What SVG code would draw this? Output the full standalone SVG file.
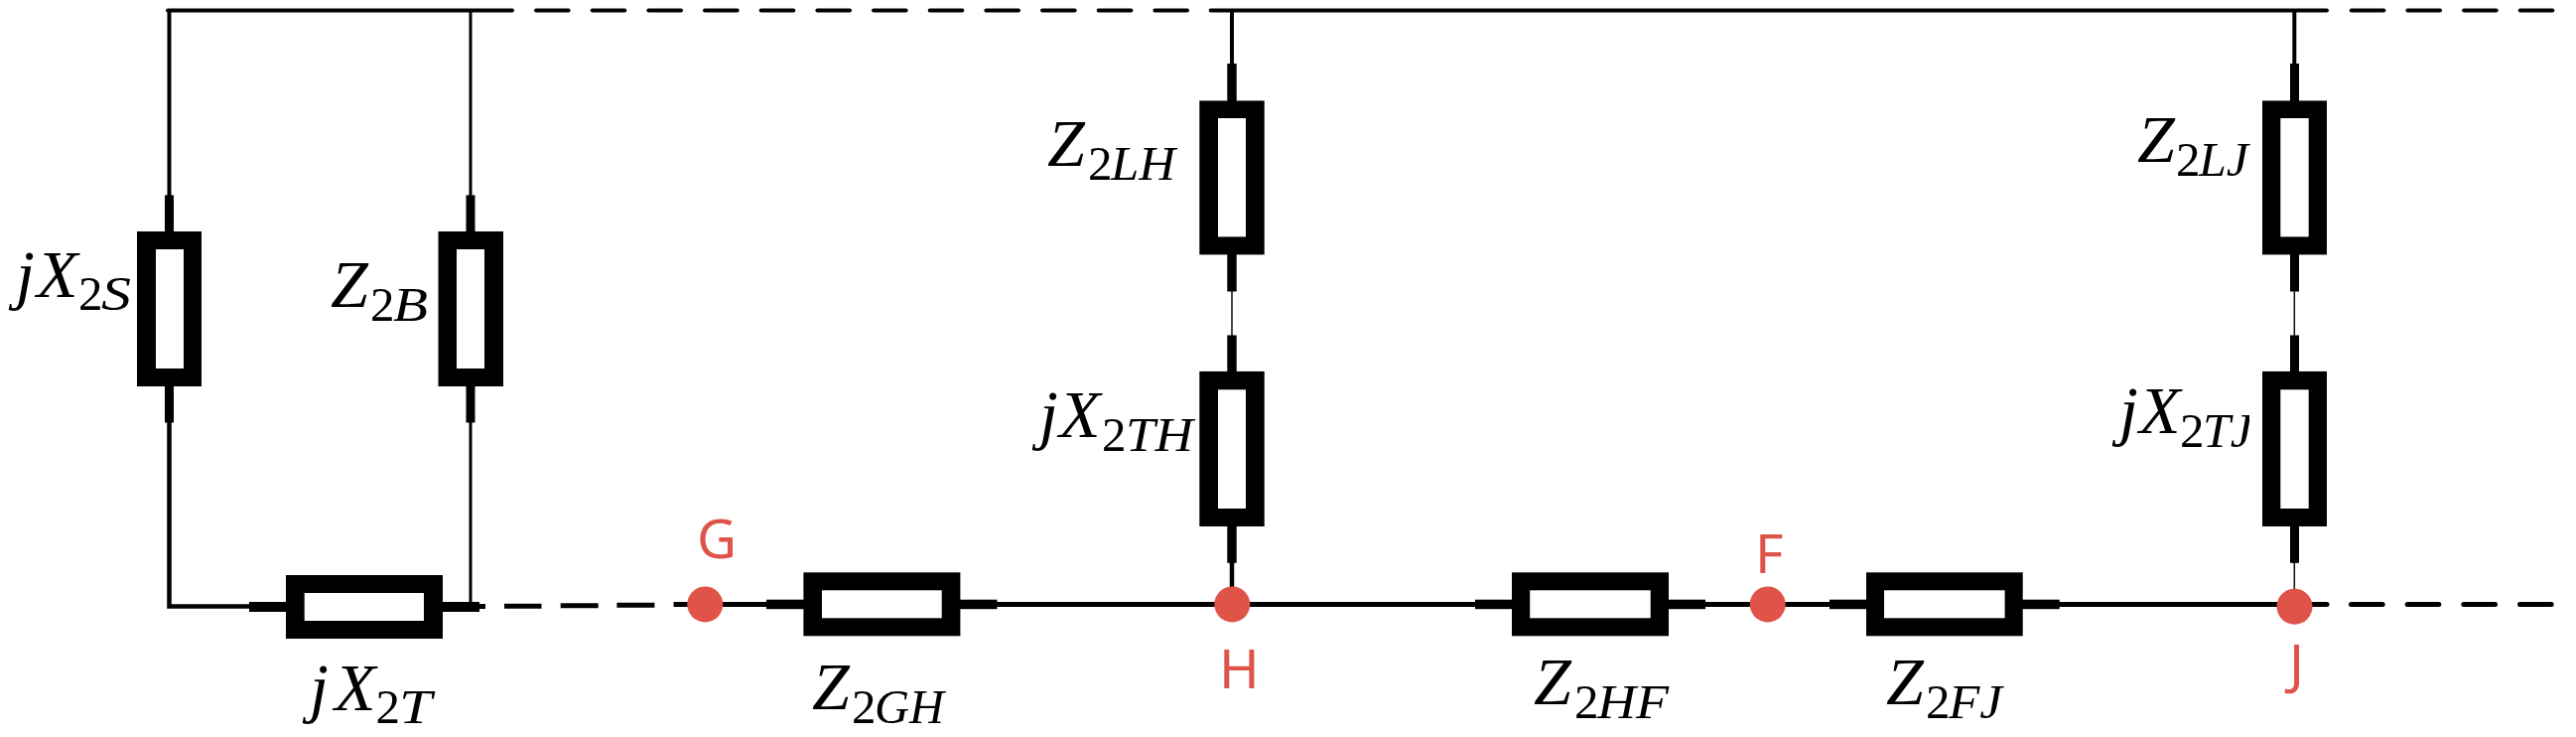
<svg xmlns="http://www.w3.org/2000/svg" width="2595" height="742" viewBox="0 0 2595 742">
<style>
.w{fill:none;stroke:#000}
.t{stroke-width:4}
.n{stroke-width:3}
.h{stroke-width:1.6;stroke:#1a1a1a}
.m{stroke-width:5}
.r{stroke-linecap:round}
.dt{stroke-dasharray:32.67 24}
.db{stroke-dasharray:31.67 25}
.f{fill:#000}
.i{fill:#fff}
.dot{fill:#e05349}
.pt{fill:#e05349;font-family:"Noto Sans",sans-serif;font-size:55px}
.lb{font-family:"Liberation Serif",serif;font-size:68px;font-style:italic;fill:#000}
.s{font-size:49px}
.u{font-style:normal}
</style>
<defs><clipPath id="c1"><rect x="2100" y="380" width="166" height="90"/></clipPath></defs>
<rect width="2595" height="742" fill="#fff"/>
<g id="connectors">
<path class="w t r" d="M169 10.4H516"/>
<path class="w t r dt" d="M540 10.4H1198"/>
<path class="w t r" d="M1219.7 10.4H2344"/>
<path class="w t r dt" d="M2368.7 10.4H2574"/>
<path class="w t" d="M170.5 10V197"/>
<path class="w n" d="M474 10V197"/>
<path class="w t" d="M1241 10V64"/>
<path class="w t" d="M2311.3 10V64"/>
<path class="w" stroke-width="4.5" d="M170.5 425V610.5H252"/>
<path class="w n" d="M474 425V610"/>
<path class="w m" d="M483 610.5H489"/>
<path class="w m" d="M508 610.2H545.5M564.7 609.7H602.7M621.4 609.2H659.4M678.6 608.6H716"/>
<path class="w m" d="M728 608.4H2320"/>
<path class="w m r" d="M2320 608.4H2344"/>
<path class="w m r db" d="M2368.5 608.4H2574"/>
<path class="w h" d="M1241 293V338"/>
<path class="w h" d="M2311.3 293V338"/>
<path class="w" stroke-width="4.5" d="M1241 566V610"/>
<path class="w h" d="M2311.3 566V610"/>
</g>
<g id="jX2S">
<rect class="f" x="166" y="196.5" width="9" height="229"/><rect class="f" x="138" y="233" width="65" height="156"/><rect class="i" x="157" y="251" width="28" height="120"/>
<text class="lb" y="299"><tspan x="16">j</tspan><tspan x="37">X</tspan><tspan class="s u" x="79" y="312.4">2</tspan><tspan class="s" x="102" y="312.4" textLength="30" lengthAdjust="spacingAndGlyphs">S</tspan></text>
</g>
<g id="Z2B">
<rect class="f" x="469.5" y="196.5" width="9" height="229"/><rect class="f" x="441.5" y="233" width="65.5" height="156"/><rect class="i" x="460" y="251" width="28" height="120"/>
<text class="lb" y="308.6"><tspan x="333">Z</tspan><tspan class="s u" x="373" y="322.8">2</tspan><tspan class="s" x="396" y="322.8" textLength="35" lengthAdjust="spacingAndGlyphs">B</tspan></text>
</g>
<g id="jX2T">
<rect class="f" x="251" y="606" width="232" height="10"/><rect class="f" x="288" y="579" width="158" height="64"/><rect class="i" x="306.7" y="597" width="120.3" height="28"/>
<text class="lb" y="714.6"><tspan x="312">j</tspan><tspan x="337">X</tspan><tspan class="s u" x="378.5" y="728">2</tspan><tspan class="s" x="402" y="728" textLength="33" lengthAdjust="spacingAndGlyphs">T</tspan></text>
</g>
<g id="Z2GH">
<rect class="f" x="772" y="603.7" width="232.5" height="9.5"/><rect class="f" x="809.4" y="576.3" width="158" height="64"/><rect class="i" x="828" y="594.3" width="120.7" height="28"/>
<text class="lb" y="714"><tspan x="818">Z</tspan><tspan class="s u" x="858" y="727.7">2</tspan><tspan class="s" x="881" y="727.7" textLength="70" lengthAdjust="spacingAndGlyphs">GH</tspan></text>
</g>
<g id="Z2HF">
<rect class="f" x="1486" y="603.7" width="232" height="9.5"/><rect class="f" x="1523" y="576.3" width="158" height="64"/><rect class="i" x="1541.2" y="594.3" width="121.5" height="28"/>
<text class="lb" y="709"><tspan x="1545">Z</tspan><tspan class="s u" x="1586" y="722.7">2</tspan><tspan class="s" x="1609" y="722.7" textLength="72" lengthAdjust="spacingAndGlyphs">HF</tspan></text>
</g>
<g id="Z2FJ">
<rect class="f" x="1843" y="603.7" width="231.7" height="9.5"/><rect class="f" x="1880" y="576.3" width="157.7" height="64"/><rect class="i" x="1898" y="594.3" width="121.6" height="28"/>
<text class="lb" y="709"><tspan x="1900">Z</tspan><tspan class="s u" x="1940" y="722.7">2</tspan><tspan class="s" x="1963" y="722.7" textLength="54" lengthAdjust="spacingAndGlyphs">FJ</tspan></text>
</g>
<g id="Z2LH">
<rect class="f" x="1236.3" y="64" width="9.4" height="229.5"/><rect class="f" x="1208.3" y="101.4" width="65.4" height="155"/><rect class="i" x="1227" y="119" width="28" height="119.4"/>
<text class="lb" y="166.5"><tspan x="1055">Z</tspan><tspan class="s u" x="1096" y="180.6">2</tspan><tspan class="s" x="1119" y="180.6" textLength="65" lengthAdjust="spacingAndGlyphs">LH</tspan></text>
</g>
<g id="jX2TH">
<rect class="f" x="1236.3" y="337.5" width="9.4" height="229.3"/><rect class="f" x="1208.3" y="373.9" width="65.4" height="156.1"/><rect class="i" x="1227" y="392.3" width="28" height="119.7"/>
<text class="lb" y="440"><tspan x="1047">j</tspan><tspan x="1067">X</tspan><tspan class="s u" x="1110" y="453.5">2</tspan><tspan class="s" x="1134" y="453.5" textLength="68" lengthAdjust="spacingAndGlyphs">TH</tspan></text>
</g>
<g id="Z2LJ">
<rect class="f" x="2307" y="64" width="9" height="229.5"/><rect class="f" x="2279" y="101.4" width="65" height="155"/><rect class="i" x="2297.3" y="119" width="28.4" height="119.4"/>
<text class="lb" y="162.6"><tspan x="2153">Z</tspan><tspan class="s u" x="2192" y="176.8">2</tspan><tspan class="s" x="2215" y="176.8" textLength="50" lengthAdjust="spacingAndGlyphs">LJ</tspan></text>
</g>
<g id="jX2TJ">
<rect class="f" x="2307" y="337.5" width="9" height="229.3"/><rect class="f" x="2279" y="373.9" width="65" height="156.1"/><rect class="i" x="2297.3" y="392.3" width="28.4" height="119.7"/>
<text class="lb" y="436" clip-path="url(#c1)"><tspan x="2135">j</tspan><tspan x="2155">X</tspan><tspan class="s u" x="2196" y="449.7">2</tspan><tspan class="s" x="2219" y="449.7" textLength="50" lengthAdjust="spacingAndGlyphs">TJ</tspan></text>
</g>
<g id="G"><circle class="dot" cx="710.3" cy="608.4" r="18"/><text class="pt" x="702" y="562">G</text></g>
<g id="H"><circle class="dot" cx="1241.3" cy="608.4" r="18"/><text class="pt" x="1228" y="692.7">H</text></g>
<g id="F"><circle class="dot" cx="1780.7" cy="608.4" r="18"/><text class="pt" x="1768" y="576.7">F</text></g>
<g id="J"><circle class="dot" cx="2311.5" cy="610.7" r="18"/><text class="pt" x="2306" y="688">J</text></g>
</svg>
